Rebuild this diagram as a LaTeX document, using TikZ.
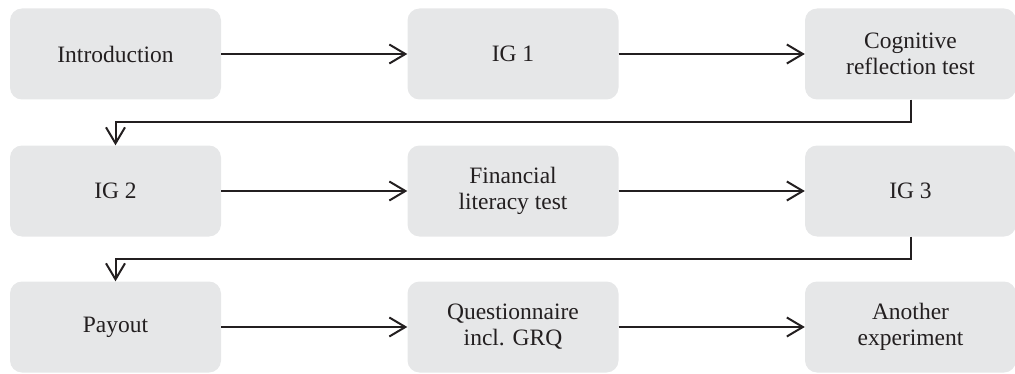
\documentclass[tikz,border=0pt]{standalone}
\usepackage{fontspec}
\setmainfont{Liberation Serif}
\usetikzlibrary{arrows.meta}
\definecolor{boxgray}{HTML}{E6E7E8}
\definecolor{ink}{HTML}{231F20}
\begin{document}
\begin{tikzpicture}[x=1pt,y=1pt,
  stagebox/.style={fill=boxgray, draw=none, rounded corners=12pt,
    minimum width=211pt, minimum height=91pt, inner sep=0pt,
    align=center, font=\fontsize{23.5}{26}\selectfont, text=ink},
  flow/.style={draw=ink, line width=2pt,
    -{Straight Barb[length=16pt,width=19pt,line width=2pt]}}]
\useasboundingbox (0,0) rectangle (1015,373);
% rows (image y): 54, 191, 327 -> tikz y: 319, 182, 46
\node[stagebox] (intro) at (115.5,319) {Introduction};
\node[stagebox] (ig1)   at (513,319)   {IG 1};
\node[stagebox] (crt)   at (910.5,319) {Cognitive\\reflection test};
\node[stagebox] (ig2)   at (115.5,182) {IG 2};
\node[stagebox] (flt)   at (513,182)   {Financial\\literacy test};
\node[stagebox] (ig3)   at (910.5,182) {IG 3};
\node[stagebox] (pay)   at (115.5,46)  {Payout};
\node[stagebox] (quest) at (513,46)    {Questionnaire\\incl. GRQ};
\node[stagebox] (anoth) at (910.5,46)  {Another\\experiment};
\draw[flow] (intro.east) -- (ig1.west);
\draw[flow] (ig1.east) -- (crt.west);
\draw[flow] (ig2.east) -- (flt.west);
\draw[flow] (flt.east) -- (ig3.west);
\draw[flow] (pay.east) -- (quest.west);
\draw[flow] (quest.east) -- (anoth.west);
\coordinate (k1) at (0,251);
\coordinate (k2) at (0,114);
\draw[flow] (crt.south) -- (crt.south |- k1) -- (ig2.north |- k1) -- (ig2.north);
\draw[flow] (ig3.south) -- (ig3.south |- k2) -- (pay.north |- k2) -- (pay.north);
\end{tikzpicture}
\end{document}
